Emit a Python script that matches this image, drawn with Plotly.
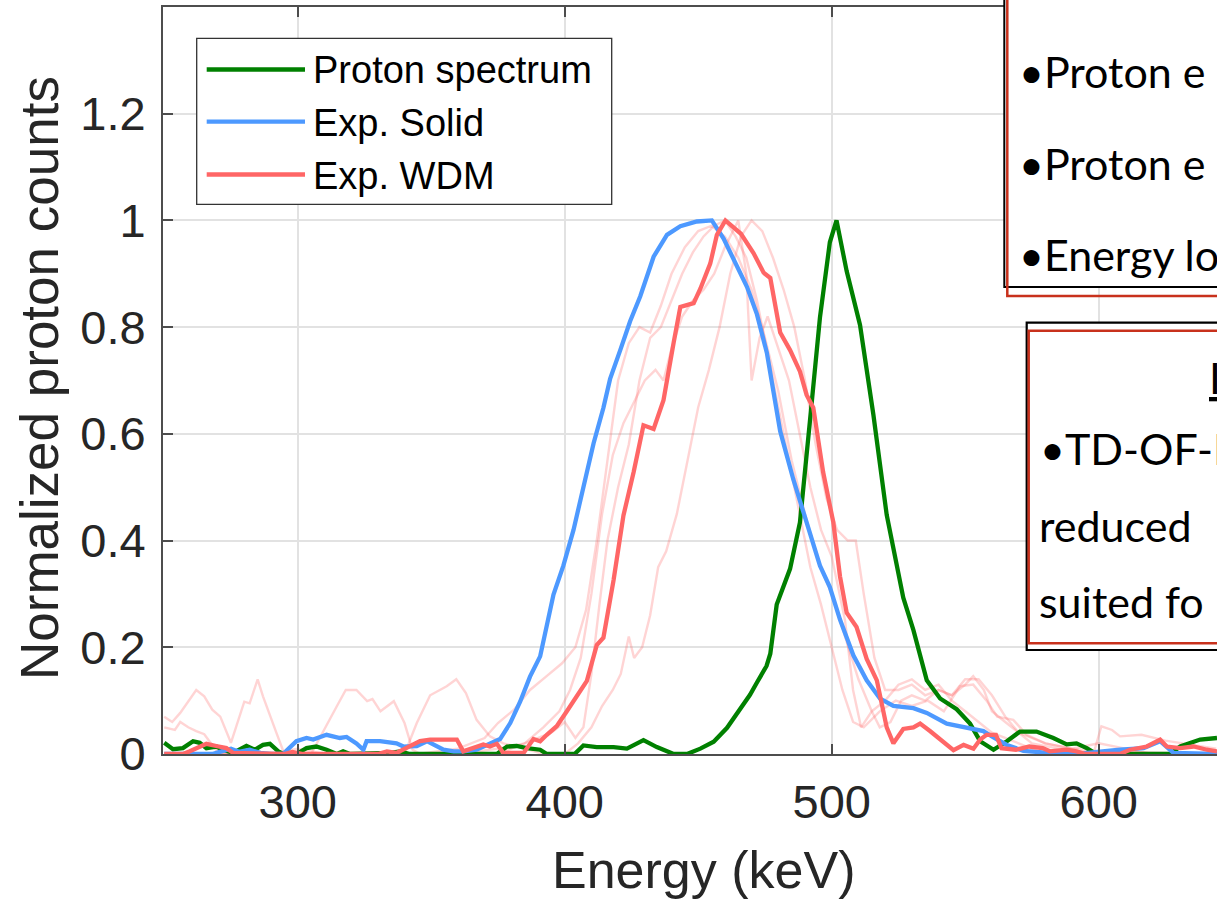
import plotly.graph_objects as go

# ---------------- data ----------------
green_E = [250, 253.3, 257, 260.8, 263.3, 265.8, 269.5, 272, 275.8, 280.8, 283.9, 287, 289.6, 292.7, 294.6, 299.5,
           303.3, 307, 310.8, 314.6, 317, 319.6, 334.6, 338.4, 342, 374.6, 378.4, 382, 385.8, 390.8, 393.3, 403.7,
           407, 412, 418.3, 423.3, 429.5, 434.5, 440.8, 445.8, 450.8, 455.8, 460.8, 465.7, 469.4, 472, 475.6, 477,
           479.4, 484.4, 488.1, 491.8, 495.6, 499.3, 501.8, 505.6, 510.6, 515.6, 520.6, 526.8, 530.6, 535.6, 540.6,
           546.8, 551.8, 555.6, 560.6, 565.6, 570.5, 576.7, 583, 588, 591.7, 595.5, 599.2, 626.7, 630.5, 638, 644.3]
green_v = [0.021, 0.009, 0.011, 0.024, 0.021, 0.011, 0.014, 0.008, 0.002, 0.015, 0.008, 0.017, 0.019, 0.005, 0, 0,
           0.011, 0.014, 0.008, 0, 0.005, 0, 0.002, 0.005, 0, 0, 0.014, 0.015, 0.011, 0.008, 0, 0,
           0.016, 0.013, 0.013, 0.010, 0.026, 0.013, 0, 0, 0.010, 0.023, 0.049, 0.084, 0.111, 0.134, 0.165, 0.188,
           0.280, 0.347, 0.434, 0.622, 0.818, 0.959, 1.0, 0.905, 0.804, 0.636, 0.448, 0.293, 0.232, 0.138, 0.104,
           0.084, 0.057, 0.024, 0.008, 0.024, 0.042, 0.042, 0.030, 0.018, 0.020, 0.011, 0, 0, 0.014, 0.027, 0.030]

blue_E = [250, 268, 271.5, 275, 278, 282, 286, 290, 294.5, 299.5, 303.3, 305.8, 310.8, 313.3, 315.8, 318.3, 322,
          324.6, 325.8, 330.8, 337, 339.6, 344.6, 348.4, 350.9, 354.6, 358.4, 362, 367, 372, 375.8, 379.6, 383.3,
          387, 390.8, 395.8, 399.5, 403.3, 407, 410.8, 414.5, 417, 420.8, 424.5, 428.3, 433.3, 438.3, 443.3, 449.5,
          455.1, 459.5, 464.5, 468.3, 472, 475.7, 480.7, 485.6, 490.6, 495.6, 499.3, 503.1, 508.1, 513.1, 518.1,
          523.1, 530.6, 535.6, 543.1, 548, 551, 556.8, 560.6, 565.6, 571.8, 578.1, 586, 592, 600.5, 608, 616.8,
          623, 628, 635.5, 644.3]
blue_v = [0, 0, 0.005, 0.010, 0.004, 0.008, 0.002, 0, 0, 0.024, 0.030, 0.027, 0.036, 0.033, 0.030, 0.032, 0.020,
          0.008, 0.024, 0.024, 0.020, 0.014, 0.015, 0.024, 0.018, 0.008, 0.005, 0.005, 0.008, 0.020, 0.028, 0.058,
          0.098, 0.145, 0.183, 0.299, 0.353, 0.420, 0.501, 0.582, 0.649, 0.703, 0.757, 0.811, 0.858, 0.932, 0.973,
          0.989, 0.998, 1.0, 0.966, 0.912, 0.875, 0.824, 0.752, 0.605, 0.515, 0.434, 0.353, 0.313, 0.252, 0.185,
          0.138, 0.104, 0.090, 0.086, 0.077, 0.057, 0.052, 0.047, 0.043, 0.031, 0.017, 0.006, 0.003, 0, 0, 0.005,
          0.008, 0.011, 0.024, 0.002, 0.002, 0]

red_E = [250, 257, 259.6, 263.3, 265.8, 269.5, 273.3, 275.8, 280.8, 283.3, 295, 298, 302, 330, 333.4, 337, 342,
         345.8, 349.6, 353.3, 355.8, 359.6, 362, 365.8, 369.5, 372, 374.6, 377, 384.6, 388.3, 390.8, 393.3, 397,
         400.8, 404.5, 408.3, 412, 414.5, 418.3, 422, 425.8, 429.5, 433.3, 437, 440.8, 443.3, 448.3, 450.8, 454.5,
         457, 460.2, 463.3, 466, 470.7, 474.5, 477, 480.7, 484.4, 488.1, 490.6, 493.1, 496.8, 500.6, 503.1, 505.6,
         509.3, 513.1, 516.9, 520.6, 523.1, 526.8, 530.6, 533.1, 536.8, 541.8, 545.6, 549.4, 553.1, 555.6, 558,
         561.5, 563.6, 569, 574, 579, 581.7, 588, 591.7, 595, 608, 611.7, 618, 623, 625.5, 630.5, 635.5, 640.5, 644.3]
red_v = [0, 0, 0.005, 0.014, 0.019, 0.015, 0.011, 0.002, 0.002, 0, 0, 0.004, 0, 0, 0.005, 0.002, 0.014,
         0.024, 0.027, 0.027, 0.028, 0.027, 0.005, 0.011, 0.018, 0.014, 0.019, 0.002, 0.002, 0.028, 0.024, 0.036,
         0.052, 0.080, 0.110, 0.137, 0.204, 0.218, 0.326, 0.447, 0.528, 0.616, 0.609, 0.663, 0.771, 0.838, 0.845,
         0.872, 0.919, 0.973, 1.0, 0.986, 0.975, 0.939, 0.902, 0.892, 0.790, 0.757, 0.717, 0.673, 0.649, 0.528,
         0.434, 0.333, 0.265, 0.238, 0.178, 0.138, 0.050, 0.020, 0.047, 0.050, 0.057, 0.043, 0.023, 0.007, 0.017,
         0.010, 0.027, 0.036, 0.036, 0.011, 0.008, 0.014, 0.011, 0.005, 0.008, 0.005, 0, 0, 0.008, 0.014, 0.027,
         0.014, 0.011, 0.014, 0.008, 0.005]

# faint individual WDM shots
shotA_E = [250, 253, 256, 262, 265, 268, 271, 275, 280, 282, 285, 287, 292, 295, 345, 360, 370, 375, 381, 387,
           393, 399, 404, 408, 412, 416, 420, 424, 428, 432, 436, 440, 445, 450, 455, 460, 465, 470, 475, 480,
           485, 490, 495, 500, 505, 510, 515, 518, 522, 526, 530, 535, 540, 545, 550, 553, 557, 560, 565, 570,
           575, 580, 590, 600, 610, 620, 644]
shotA_v = [0.070, 0.060, 0.077, 0.120, 0.108, 0.083, 0.070, 0.021, 0.098, 0.095, 0.140, 0.108, 0.040, 0, 0, 0.010,
           0.030, 0.058, 0.083, 0.120, 0.145, 0.170, 0.200, 0.270, 0.400, 0.550, 0.700, 0.770, 0.800, 0.790, 0.840,
           0.900, 0.950, 0.980, 0.990, 0.970, 0.930, 0.870, 0.780, 0.680, 0.550, 0.450, 0.360, 0.300, 0.220, 0.140,
           0.080, 0.050, 0.060, 0.100, 0.110, 0.100, 0.120, 0.110, 0.130, 0.146, 0.120, 0.080, 0.060, 0.040, 0.030,
           0.020, 0.010, 0.020, 0.010, 0, 0]

shotB_E = [250, 254, 256, 259, 262, 265, 269, 271, 305, 308, 314.6, 318, 322, 326, 328, 331, 336, 340, 343, 346,
           375, 385, 392, 398, 402, 406, 410, 414, 418, 422, 426, 430, 434, 437, 440, 444, 448, 452, 456, 460, 465,
           468, 470, 473, 476, 480, 484, 488, 492, 496, 500, 505, 508, 511, 515, 520, 525, 530, 535, 540, 545, 550,
           555, 560, 570, 580, 598, 601, 605, 608, 616, 625, 635, 644]
shotB_v = [0.050, 0.045, 0.060, 0.050, 0.043, 0.037, 0.010, 0, 0, 0.027, 0.089, 0.120, 0.120, 0.099, 0.103, 0.080,
           0.099, 0.058, 0.008, 0, 0, 0.020, 0.050, 0.080, 0.120, 0.180, 0.300, 0.450, 0.560, 0.620, 0.660, 0.700,
           0.720, 0.700, 0.760, 0.820, 0.850, 0.870, 0.900, 0.950, 1.0, 0.900, 0.700, 0.780, 0.820, 0.760, 0.700,
           0.600, 0.500, 0.420, 0.370, 0.250, 0.120, 0.050, 0.080, 0.100, 0.130, 0.140, 0.120, 0.130, 0.100, 0.080,
           0.060, 0.040, 0.020, 0, 0, 0.052, 0.045, 0.033, 0.036, 0.025, 0.017, 0.010]

shotC_E = [250, 340, 344.6, 349.6, 355.8, 359.4, 363, 367, 372, 377, 385, 392, 400, 405, 410, 414, 418, 421, 424,
           426, 429, 432, 435, 438, 442, 446, 450, 454, 458, 462, 466, 470, 474, 478, 482, 486, 490, 494, 498, 502,
           506, 509, 512, 516, 520, 525, 530, 535, 540, 545, 550, 555, 560, 565, 570, 575, 585, 600, 644]
shotC_v = [0, 0, 0.058, 0.110, 0.127, 0.140, 0.114, 0.064, 0.033, 0.020, 0.010, 0, 0, 0.020, 0.050, 0.090, 0.120,
           0.150, 0.220, 0.180, 0.200, 0.260, 0.350, 0.380, 0.450, 0.550, 0.650, 0.720, 0.800, 0.900, 0.970, 1.0,
           0.980, 0.930, 0.870, 0.800, 0.700, 0.580, 0.480, 0.420, 0.400, 0.400, 0.300, 0.180, 0.120, 0.120, 0.130,
           0.110, 0.120, 0.110, 0.140, 0.140, 0.110, 0.070, 0.040, 0.020, 0.010, 0, 0]

shotD_E = [250, 290, 300, 310, 360, 375, 385, 395, 400, 404, 407, 410, 413, 416, 420, 424, 428, 432, 436, 440, 444,
           448, 452, 456, 460, 464, 468, 472, 476, 480, 484, 488, 492, 496, 500, 504, 508, 512, 518, 524, 530, 536,
           542, 548, 553, 558, 562, 568, 573, 580, 590, 600, 644]
shotD_v = [0, 0, 0.010, 0, 0, 0.010, 0.020, 0.040, 0.060, 0.030, 0.050, 0.150, 0.280, 0.400, 0.500, 0.580, 0.700,
           0.780, 0.800, 0.850, 0.900, 0.940, 0.970, 0.990, 1.0, 0.970, 0.930, 0.850, 0.750, 0.650, 0.550, 0.450,
           0.350, 0.280, 0.200, 0.120, 0.060, 0.050, 0.080, 0.100, 0.090, 0.100, 0.080, 0.127, 0.130, 0.100, 0.070,
           0.064, 0.036, 0.020, 0.010, 0.005, 0]

series_names = ["Proton spectrum", "Exp. Solid", "Exp. WDM"]
series_colors = ["#008000", "#4d99ff", "#ff6666"]
x_ticks = [300, 400, 500, 600]
y_ticks = [0, 0.2, 0.4, 0.6, 0.8, 1, 1.2]
x_title = "Energy (keV)"
y_title = "Normalized proton counts"
box1_lines = ["•Proton e", "•Proton e", "•Energy lo"]
box2_lines = ["•TD-OF-D", "reduced", "suited fo"]

# ---------------- layout geometry ----------------
W, H = 1217, 900
L, T, B = 163, 7, 146
PW, PH = W - L, H - T - B
X0, X1 = 249.55, 644.3


def px(x):
    return (x - L) / PW


def py(y):
    return (H - B - y) / PH


fig = go.Figure()
shot_col = "rgba(255,102,102,0.28)"
for ex, ev in [(shotA_E, shotA_v), (shotB_E, shotB_v), (shotC_E, shotC_v), (shotD_E, shotD_v)]:
    fig.add_trace(go.Scatter(x=ex, y=ev, mode="lines", line=dict(color=shot_col, width=2.4),
                             showlegend=False, hoverinfo="skip"))

for (ex, ev), nm, col in zip([(green_E, green_v), (blue_E, blue_v), (red_E, red_v)], series_names, series_colors):
    fig.add_trace(go.Scatter(x=ex, y=ev, mode="lines", name=nm, line=dict(color=col, width=4.3),
                             showlegend=False))

axis_col = "#4d4d4d"
font_fam = "Liberation Sans, Arial, sans-serif"
fig.update_layout(
    width=W, height=H, margin=dict(l=L, r=0, t=T, b=B, autoexpand=False),
    paper_bgcolor="white", plot_bgcolor="white",
    font=dict(family=font_fam, color="#262626"),
    xaxis=dict(range=[X0, X1], tickvals=x_ticks, ticks="inside", ticklen=10, tickwidth=1.5,
               tickcolor=axis_col, showline=True, linecolor=axis_col, linewidth=2, mirror="ticks",
               showgrid=True, gridcolor="#e2e2e2", gridwidth=1.5, zeroline=False,
               ticklabelstandoff=6,
               tickfont=dict(size=47, color="#262626")),
    yaxis=dict(range=[0, 1.4], tickvals=y_ticks, ticks="inside", ticklen=10, tickwidth=1.5,
               tickcolor=axis_col, showline=True, linecolor=axis_col, linewidth=2, mirror=False,
               showgrid=True, gridcolor="#e2e2e2", gridwidth=1.5, zeroline=False,
               ticklabelstandoff=6,
               tickfont=dict(size=47, color="#262626")),
)

shapes = []
annos = []
# axis titles
annos.append(dict(x=px(703), y=py(888 - 0.35 * 52), xref="paper", yref="paper", text=x_title, showarrow=False,
                  xanchor="center", yanchor="middle", font=dict(size=52, color="#262626", family=font_fam)))
annos.append(dict(x=px(40), y=py(378), xref="paper", yref="paper", text=y_title, showarrow=False, textangle=-90,
                  xanchor="center", yanchor="middle", font=dict(size=53, color="#262626", family=font_fam)))

# manual legend
shapes.append(dict(type="rect", xref="paper", yref="paper", x0=px(196.7), x1=px(611.7),
                   y0=py(204.3), y1=py(38.3), line=dict(color="#333333", width=1.3),
                   fillcolor="white", layer="above"))
for yy, nm, col in zip([69.5, 121.7, 174.5], series_names, series_colors):
    shapes.append(dict(type="line", xref="paper", yref="paper", x0=px(206.7), x1=px(305),
                       y0=py(yy), y1=py(yy), line=dict(color=col, width=4.3), layer="above"))
    annos.append(dict(x=px(311), y=py(yy + 1), xref="paper", yref="paper", text=nm, showarrow=False,
                      xanchor="left", yanchor="middle", font=dict(size=38, color="#000000", family=font_fam)))

# overlaid slide boxes
red_box = "#c8311c"
shapes.append(dict(type="rect", xref="paper", yref="paper", x0=px(1004.3), x1=px(1300), y0=py(287),
                   y1=py(-30), line=dict(color="black", width=2), fillcolor="white", layer="above"))
shapes.append(dict(type="rect", xref="paper", yref="paper", x0=px(1007.3), x1=px(1300), y0=py(296),
                   y1=py(-30), line=dict(color=red_box, width=2.5), fillcolor="rgba(0,0,0,0)", layer="above"))
shapes.append(dict(type="rect", xref="paper", yref="paper", x0=px(1026.7), x1=px(1300), y0=py(650),
                   y1=py(322.7), line=dict(color="black", width=2.2), fillcolor="white", layer="above"))
shapes.append(dict(type="rect", xref="paper", yref="paper", x0=px(1028.7), x1=px(1300), y0=py(643.3),
                   y1=py(330.7), line=dict(color=red_box, width=2.5), fillcolor="rgba(0,0,0,0)", layer="above"))

BS = 43
box_font = dict(size=BS, color="#000000", family="Lato, Open Sans, sans-serif")
off = 0.387 * BS
for base, txt in zip([88, 180, 270.7], box1_lines):
    annos.append(dict(x=px(1017), y=py(base - off), xref="paper", yref="paper", text=txt, showarrow=False,
                      xanchor="left", yanchor="middle", font=box_font))
for base, txt, x in zip([465, 541.7, 618], box2_lines, [1038, 1037, 1037]):
    annos.append(dict(x=px(x), y=py(base - off), xref="paper", yref="paper", text=txt, showarrow=False,
                      xanchor="left", yanchor="middle", font=box_font))
annos.append(dict(x=px(1207), y=py(394 - off), xref="paper", yref="paper", text="<u>I</u>", showarrow=False,
                  xanchor="left", yanchor="middle", font=box_font))

fig.update_layout(shapes=shapes, annotations=annos)
fig.write_html("out.html")
